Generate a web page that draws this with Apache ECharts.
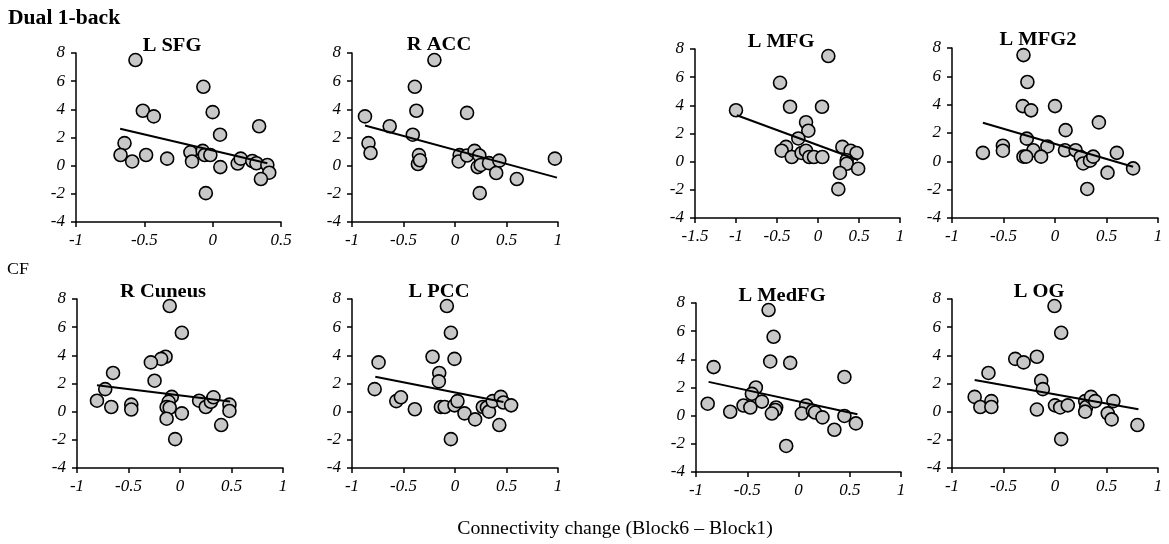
<!DOCTYPE html>
<html>
<head>
<meta charset="utf-8">
<script src="https://cdn.jsdelivr.net/npm/echarts@6/dist/echarts.min.js"></script>
<style>html,body{margin:0;padding:0;background:#fff}#c{width:1169px;height:544px}</style>
</head>
<body>
<div id="c"></div>
<script>
// ---- Data ----
const panelTitles = ['L SFG', 'R ACC', 'L MFG', 'L MFG2', 'R Cuneus', 'L PCC', 'L MedFG', 'L OG'];
const yTicks = [-4, -2, 0, 2, 4, 6, 8];
const xRanges = [[-1, 0.5], [-1, 1], [-1.5, 1], [-1, 1], [-1, 1], [-1, 1], [-1, 1], [-1, 1]];

const sfgX = [-0.565, -0.068, -0.511, -0.431, 0.0, 0.34, 0.054, -0.645, -0.674, -0.589, -0.487, -0.333, -0.163, -0.151, -0.073, -0.058, -0.017, 0.056, -0.05, 0.183, 0.205, 0.29, 0.32, 0.40, 0.414, 0.353];
const sfgY = [7.5, 5.6, 3.9, 3.5, 3.8, 2.8, 2.2, 1.6, 0.76, 0.3, 0.76, 0.5, 0.95, 0.3, 1.05, 0.76, 0.76, -0.1, -1.95, 0.15, 0.5, 0.33, 0.17, 0.05, -0.5, -0.95];
const sfgTrendX = [-0.677, 0.40];
const sfgTrendY = [2.62, 0.17];

const accX = [-0.2, -0.39, -0.375, 0.117, -0.874, -0.634, -0.41, -0.84, -0.82, -0.35, -0.36, -0.34, 0.045, 0.036, 0.117, 0.19, 0.236, 0.22, 0.25, 0.33, 0.43, 0.4, 0.60, 0.24, 0.97];
const accY = [7.5, 5.6, 3.9, 3.75, 3.5, 2.8, 2.2, 1.6, 0.9, 0.75, 0.12, 0.38, 0.75, 0.3, 0.72, 1.05, 0.72, -0.1, 0.05, 0.18, 0.36, -0.52, -0.95, -1.95, 0.5];
const accTrendX = [-0.874, 0.99];
const accTrendY = [2.85, -0.85];

const mfgX = [0.126, -0.463, -0.341, 0.049, -1.0, -0.146, -0.118, -0.24, -0.39, -0.443, -0.32, -0.2, -0.146, -0.106, -0.049, 0.053, 0.297, 0.398, 0.47, 0.35, 0.35, 0.49, 0.268, 0.248];
const mfgY = [7.5, 5.6, 3.9, 3.9, 3.65, 2.8, 2.2, 1.65, 1.05, 0.78, 0.33, 0.62, 0.78, 0.33, 0.33, 0.33, 1.05, 0.78, 0.62, 0.1, -0.15, -0.5, -0.8, -1.95];
const mfgTrendX = [-0.99, 0.49];
const mfgTrendY = [3.3, 0.12];

const mfg2X = [-0.306, -0.268, -0.313, -0.232, 0.0, 0.426, 0.103, -0.274, -0.506, -0.506, -0.7, -0.074, -0.21, -0.306, -0.28, -0.135, 0.097, 0.2, 0.25, 0.274, 0.34, 0.371, 0.6, 0.51, 0.758, 0.313];
const mfg2Y = [7.5, 5.6, 3.9, 3.6, 3.9, 2.75, 2.2, 1.6, 1.1, 0.75, 0.6, 1.05, 0.78, 0.33, 0.33, 0.33, 0.78, 0.78, 0.3, -0.15, 0.05, 0.33, 0.6, -0.8, -0.5, -1.95];
const mfg2TrendX = [-0.7, 0.758];
const mfg2TrendY = [2.72, -0.38];

const cunX = [-0.1, 0.018, -0.14, -0.183, -0.283, -0.65, -0.247, -0.726, -0.806, -0.667, -0.473, -0.473, -0.08, -0.11, -0.13, -0.1, -0.13, 0.018, -0.047, 0.186, 0.25, 0.3, 0.325, 0.48, 0.48, 0.4];
const cunY = [7.5, 5.6, 3.9, 3.75, 3.5, 2.75, 2.2, 1.6, 0.78, 0.33, 0.5, 0.15, 1.05, 0.7, 0.33, 0.28, -0.5, -0.12, -1.95, 0.78, 0.33, 0.7, 1.02, 0.5, 0.05, -0.95];
const cunTrendX = [-0.806, 0.486];
const cunTrendY = [1.87, 0.72];

const pccX = [-0.079, -0.04, -0.218, -0.005, -0.742, -0.153, -0.157, -0.78, -0.57, -0.525, -0.39, -0.137, -0.1, -0.005, 0.024, 0.092, 0.195, -0.04, 0.27, 0.31, 0.33, 0.366, 0.445, 0.47, 0.545, 0.43];
const pccY = [7.5, 5.6, 3.9, 3.75, 3.5, 2.75, 2.15, 1.6, 0.75, 1.02, 0.17, 0.33, 0.33, 0.45, 0.75, -0.12, -0.55, -1.95, 0.33, 0.3, 0.0, 0.75, 1.05, 0.65, 0.45, -0.95];
const pccTrendX = [-0.774, 0.47];
const pccTrendY = [2.48, 0.68];

const medX = [-0.292, -0.243, -0.276, -0.081, -0.828, 0.448, -0.416, -0.455, -0.886, -0.357, -0.536, -0.47, -0.666, -0.218, -0.227, -0.26, 0.075, 0.032, 0.14, 0.162, 0.234, 0.448, 0.56, 0.35, -0.12];
const medY = [7.5, 5.6, 3.85, 3.75, 3.45, 2.75, 2.0, 1.55, 0.85, 1.0, 0.72, 0.58, 0.28, 0.58, 0.4, 0.15, 0.72, 0.15, 0.35, 0.22, -0.12, -0.02, -0.55, -1.0, -2.15];
const medTrendX = [-0.877, 0.575];
const medTrendY = [2.4, 0.1];

const ogX = [-0.005, 0.06, -0.386, -0.305, -0.176, -0.646, -0.134, -0.118, -0.78, -0.725, -0.618, -0.618, -0.176, 0.0, 0.05, 0.124, 0.06, 0.293, 0.303, 0.293, 0.35, 0.39, 0.512, 0.55, 0.567, 0.8];
const ogY = [7.5, 5.6, 3.75, 3.5, 3.9, 2.75, 2.2, 1.6, 1.05, 0.33, 0.75, 0.33, 0.15, 0.45, 0.3, 0.45, -1.95, 0.75, 0.33, 0.0, 1.05, 0.75, -0.12, -0.55, 0.75, -0.95];
const ogTrendX = [-0.78, 0.81];
const ogTrendY = [2.25, 0.17];

const xsAll = [sfgX, accX, mfgX, mfg2X, cunX, pccX, medX, ogX];
const ysAll = [sfgY, accY, mfgY, mfg2Y, cunY, pccY, medY, ogY];
const txAll = [sfgTrendX, accTrendX, mfgTrendX, mfg2TrendX, cunTrendX, pccTrendX, medTrendX, ogTrendX];
const tyAll = [sfgTrendY, accTrendY, mfgTrendY, mfg2TrendY, cunTrendY, pccTrendY, medTrendY, ogTrendY];

// ---- Layout ----
const gridBoxes = [
  [76, 53, 205, 169], [352, 53, 206, 169], [695, 49, 205, 169], [952, 48, 206, 170],
  [77, 299, 206, 169], [352, 299, 206, 169], [696, 303, 205, 169], [952, 299, 206, 169]
];
const titlePos = [[172, 46], [439, 45], [781, 42], [1038, 40], [163, 292], [439, 292], [782, 296], [1039, 292]];
const serif = '"Liberation Serif", "Times New Roman", serif';

const grid = [], xAxis = [], yAxis = [], series = [], graphic = [];
gridBoxes.forEach((b, i) => {
  grid.push({ left: b[0], top: b[1], width: b[2], height: b[3], containLabel: false });
  const axisCommon = {
    axisLine: { onZero: false, lineStyle: { color: '#000', width: 1.5 } },
    axisTick: { show: true, inside: false, length: 5, lineStyle: { color: '#000', width: 1.5 } },
    splitLine: { show: false },
    axisLabel: { color: '#000', fontFamily: serif, fontStyle: 'italic', fontSize: 17 }
  };
  xAxis.push(Object.assign({}, axisCommon, {
    type: 'value', gridIndex: i, min: xRanges[i][0], max: xRanges[i][1], interval: 0.5,
    axisLabel: Object.assign({}, axisCommon.axisLabel, { margin: 10 })
  }));
  yAxis.push(Object.assign({}, axisCommon, {
    type: 'value', gridIndex: i, min: yTicks[0], max: yTicks[yTicks.length - 1], interval: 2,
    axisLabel: Object.assign({}, axisCommon.axisLabel, { margin: 11 })
  }));
  series.push({
    type: 'scatter', xAxisIndex: i, yAxisIndex: i,
    data: xsAll[i].map((x, k) => [x, ysAll[i][k]]),
    symbol: 'circle', symbolSize: 13,
    itemStyle: { color: '#c8c8c8', borderColor: '#000', borderWidth: 1.6, opacity: 1 },
    z: 2
  });
  series.push({
    type: 'line', xAxisIndex: i, yAxisIndex: i,
    data: txAll[i].map((x, k) => [x, tyAll[i][k]]),
    showSymbol: false, symbol: 'none',
    lineStyle: { color: '#000', width: 2 },
    z: 3, silent: true
  });
  graphic.push({
    type: 'text', x: titlePos[i][0], y: titlePos[i][1], scaleX: 1.08,
    style: { text: panelTitles[i], fill: '#000', font: 'bold 19px ' + serif, textAlign: 'center', textVerticalAlign: 'middle' },
    z: 10
  });
});

graphic.push({
  type: 'text', x: 8, y: 19, scaleX: 1.08,
  style: { text: 'Dual 1-back', fill: '#000', font: 'bold 20px ' + serif, textAlign: 'left', textVerticalAlign: 'middle' }
});
graphic.push({
  type: 'text', x: 18, y: 270, scaleX: 1.05,
  style: { text: 'CF', fill: '#000', font: '17px ' + serif, textAlign: 'center', textVerticalAlign: 'middle' }
});
graphic.push({
  type: 'text', x: 615, y: 529, scaleX: 1.1,
  style: { text: 'Connectivity change (Block6 \u2013 Block1)', fill: '#000', font: '18px ' + serif, textAlign: 'center', textVerticalAlign: 'middle' }
});

const chart = echarts.init(document.getElementById('c'), null, { renderer: 'canvas' });
chart.setOption({ animation: false, backgroundColor: '#fff', grid, xAxis, yAxis, series, graphic });
</script>
</body>
</html>
